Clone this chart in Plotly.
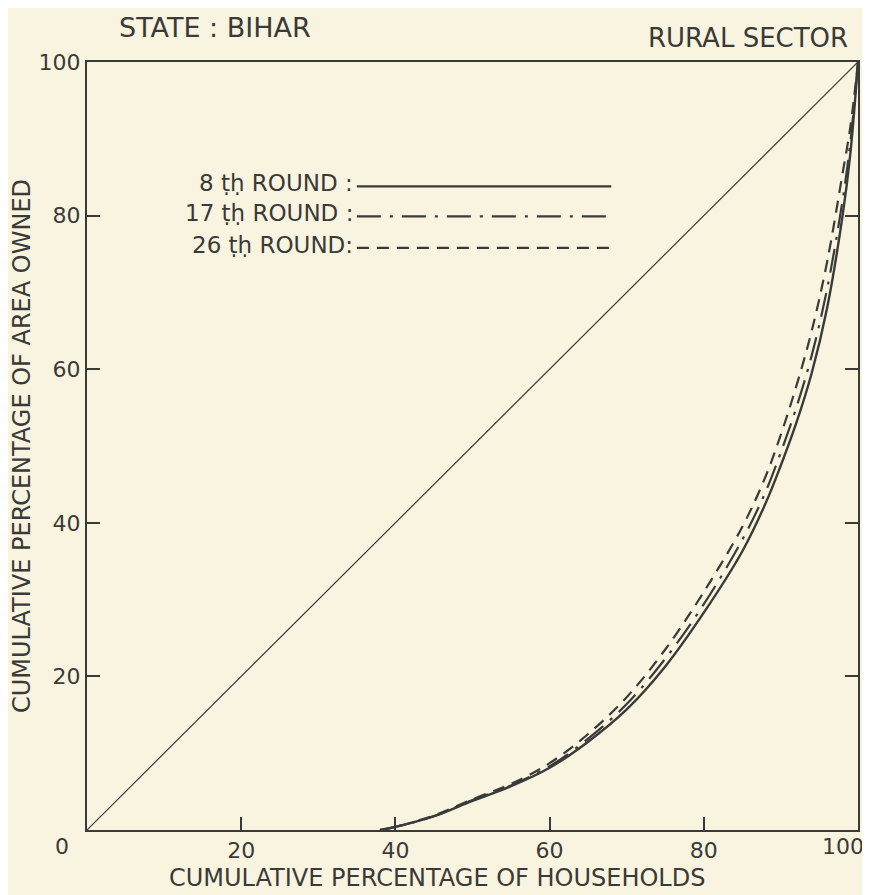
import plotly.graph_objects as go

# Cumulative percentage of households (x) and area owned (y)
households = [38, 40, 45, 50, 55, 60, 65, 70, 75, 80, 85, 88, 90, 92, 94, 96, 98, 99, 100]
round_8 = [0, 0.4, 1.8, 3.8, 5.7, 8.1, 11.5, 15.7, 21.3, 28.3, 36.3, 42.5, 47.5, 53.0, 59.5, 68.0, 80.0, 88.0, 100]
round_17 = [0, 0.4, 1.8, 3.9, 5.8, 8.3, 11.9, 16.4, 22.3, 29.4, 37.8, 44.0, 49.2, 55.0, 61.8, 70.5, 82.0, 89.5, 100]
round_26 = [0, 0.4, 1.9, 4.0, 6.0, 8.7, 12.5, 17.3, 23.5, 31.0, 39.5, 46.0, 51.5, 57.8, 65.0, 74.0, 85.5, 91.5, 100]
equality = [0, 100]

x_ticks = [20, 40, 60, 80]
y_ticks = [20, 40, 60, 80, 100]

ink = "#3a3a38"
paper = "#f9f4e0"
font = "DejaVu Sans"

fig = go.Figure()
fig.add_trace(go.Scatter(x=equality, y=equality, mode="lines",
                         line=dict(color=ink, width=1.2), showlegend=False))
fig.add_trace(go.Scatter(x=households, y=round_8, mode="lines", line_shape="spline",
                         line=dict(color=ink, width=2.4), showlegend=False))
fig.add_trace(go.Scatter(x=households, y=round_17, mode="lines", line_shape="spline",
                         line=dict(color=ink, width=2.2, dash="24px,9px,3px,9px"), showlegend=False))
fig.add_trace(go.Scatter(x=households, y=round_26, mode="lines", line_shape="spline",
                         line=dict(color=ink, width=2.2, dash="12px,8px"), showlegend=False))

# legend drawn as text + sample lines
legend = [("8 ṭḥ ROUND :", "solid", 0.158),
          ("17 ṭḥ ROUND :", "24px,9px,3px,9px", 0.197),
          ("26 ṭḥ ROUND:", "12px,8px", 0.238)]
for label, dash, yy in legend:
    fig.add_annotation(x=0.347, y=1 - yy, xref="paper", yref="paper", text=label,
                       showarrow=False, xanchor="right", yanchor="middle",
                       font=dict(family=font, size=23, color=ink))
    fig.add_shape(type="line", xref="paper", yref="paper",
                  x0=0.350, x1=0.680, y0=1 - yy - 0.004, y1=1 - yy - 0.004,
                  line=dict(color=ink, width=2.2, dash=dash))

fig.add_annotation(x=0.04, y=1.045, xref="paper", yref="paper", text="STATE : BIHAR",
                   showarrow=False, xanchor="left", yanchor="middle", borderpad=0,
                   font=dict(family=font, size=27, color=ink))
fig.add_annotation(x=0.99, y=1.031, xref="paper", yref="paper", text="RURAL SECTOR",
                   showarrow=False, xanchor="right", yanchor="middle",
                   font=dict(family=font, size=26, color=ink))
fig.add_annotation(x=0, y=0, xref="x", yref="y", text="0", showarrow=False,
                   xshift=-25, yshift=-16, font=dict(family=font, size=22, color=ink))
fig.add_annotation(x=100, y=0, xref="x", yref="y", text="100", showarrow=False,
                   xanchor="right", xshift=7, yshift=-16, borderpad=0,
                   font=dict(family=font, size=22, color=ink))
fig.add_annotation(x=0.454, y=-0.062, xref="paper", yref="paper",
                   text="CUMULATIVE PERCENTAGE OF HOUSEHOLDS", showarrow=False,
                   xanchor="center", yanchor="middle",
                   font=dict(family=font, size=24, color=ink))

fig.update_layout(
    width=862, height=887,
    margin=dict(l=79, r=10, t=54, b=65),
    paper_bgcolor=paper, plot_bgcolor=paper,
    font=dict(family=font, color=ink),
)
fig.update_xaxes(range=[0, 100], tickvals=x_ticks, ticks="inside", ticklen=13,
                 tickwidth=1.5, tickcolor=ink, showline=True, linewidth=2, linecolor=ink,
                 mirror=True, showgrid=False, zeroline=False,
                 tickfont=dict(family=font, size=22, color=ink))
fig.update_yaxes(range=[0, 100], tickvals=y_ticks, ticks="inside", ticklen=13,
                 tickwidth=1.5, tickcolor=ink, showline=True, linewidth=2, linecolor=ink,
                 mirror="ticks", showgrid=False, zeroline=False,
                 tickfont=dict(family=font, size=22, color=ink),
                 title=dict(text="CUMULATIVE PERCENTAGE OF AREA OWNED", standoff=4,
                            font=dict(family=font, size=24, color=ink)))

fig.write_html("out.html")
